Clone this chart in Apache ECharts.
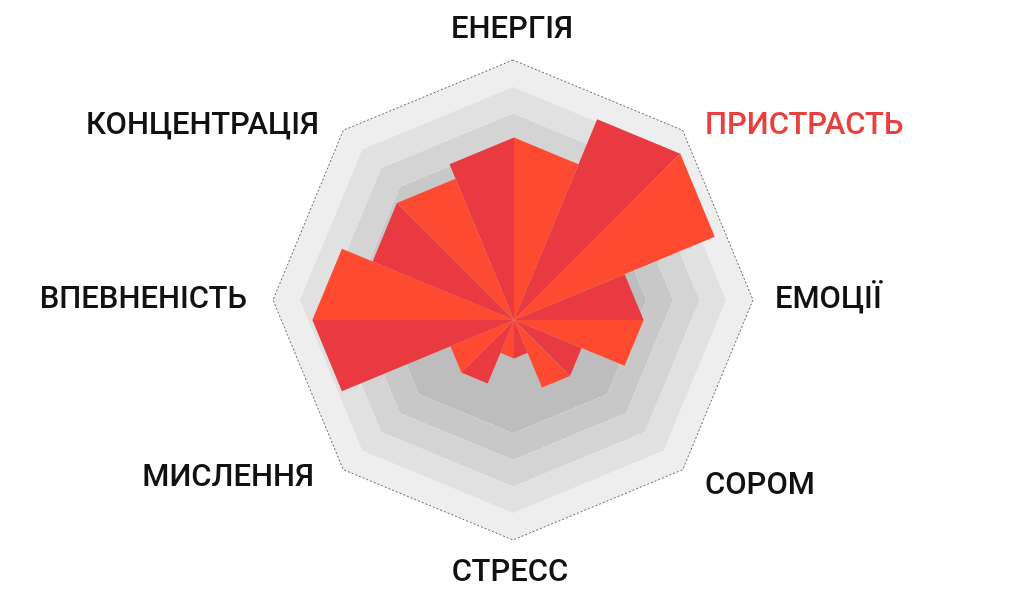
<!DOCTYPE html>
<html><head><meta charset="utf-8">
<script src="https://cdn.jsdelivr.net/npm/echarts@6/dist/echarts.min.js"></script>
<style>html,body{margin:0;padding:0;background:#fff}#c{width:1024px;height:605px}</style>
</head><body><div id="c"></div>
<script>
// ---- data ----
const categories = ['ЕНЕРГІЯ', 'ПРИСТРАСТЬ', 'ЕМОЦІЇ', 'СОРОМ', 'СТРЕСС', 'МИСЛЕННЯ', 'ВПЕВНЕНІСТЬ', 'КОНЦЕНТРАЦІЯ'];
const values = [76, 98, 54, 33, 16, 31, 84, 69];
const valueMax = 100;
const ringCount = 9;
const innerRings = 5;
const highlighted = 'ПРИСТРАСТЬ';

// ---- styles / layout ----
const darkRed = '#e83a40';
const orangeRed = '#fe4a30';
const innerColor = '#bdbdbd';
const outerRingColors = ['#c8c8c8', '#d4d4d4', '#e1e1e1', '#eeeeee'];
const labelLayout = [
  { x: 512, y: 30, align: 'center' },
  { x: 705, y: 126, align: 'left' },
  { x: 775, y: 300, align: 'left' },
  { x: 705, y: 486, align: 'left' },
  { x: 510, y: 573, align: 'center' },
  { x: 314, y: 478, align: 'right' },
  { x: 247, y: 300, align: 'right' },
  { x: 319, y: 126, align: 'right' }
];
const radarCenter = [513, 300];
const radarRadius = 240;

const chart = echarts.init(document.getElementById('c'), null, { renderer: 'canvas' });
const step = 360 / categories.length;
const half = step / 2;
const sideFactor = Math.cos(half * Math.PI / 180);

const ringColors = [];
for (let i = 0; i < ringCount; i++) ringColors.push(i < innerRings ? 'rgba(0,0,0,0)' : outerRingColors[i - innerRings]);
const splitLineColors = [];
for (let i = 0; i <= ringCount; i++) splitLineColors.push(i === ringCount ? '#6b6b6b' : 'rgba(0,0,0,0)');

const hidden = { show: false };
chart.setOption({
  backgroundColor: '#ffffff',
  animation: false,
  radar: [{
    center: radarCenter,
    radius: radarRadius * innerRings / ringCount,
    startAngle: 90,
    shape: 'polygon',
    splitNumber: 1,
    indicator: categories.map(n => ({ name: n, min: 0, max: 1 })),
    axisName: hidden, axisLine: hidden, axisTick: hidden, axisLabel: hidden, splitLine: hidden,
    splitArea: { show: true, areaStyle: { color: [innerColor] } }
  }, {
    center: radarCenter,
    radius: radarRadius,
    startAngle: 90,
    shape: 'polygon',
    splitNumber: ringCount,
    indicator: categories.map(n => ({ name: n, min: 0, max: ringCount })),
    axisName: hidden, axisLine: hidden, axisTick: hidden, axisLabel: hidden,
    splitLine: { show: true, lineStyle: { color: splitLineColors, width: 1, type: [2, 2] } },
    splitArea: { show: true, areaStyle: { color: ringColors } }
  }],
  polar: { center: [514, 320], radius: 240 },
  angleAxis: {
    type: 'value', min: 0, max: 360, startAngle: 90, clockwise: true,
    axisLine: hidden, axisTick: hidden, axisLabel: hidden, splitLine: hidden
  },
  radiusAxis: {
    type: 'value', min: 0, max: valueMax,
    axisLine: hidden, axisTick: hidden, axisLabel: hidden, splitLine: hidden
  },
  series: [{
    type: 'custom',
    coordinateSystem: 'polar',
    z: 5,
    data: values.map((v, i) => [v, i * step]),
    renderItem: function (params, api) {
      const v = api.value(0);
      const a = api.value(1);
      const s = v * sideFactor;
      const c = api.coord([0, a]);
      const tip = api.coord([v, a]);
      const left = api.coord([s, (a - half + 360) % 360]);
      const right = api.coord([s, (a + half) % 360]);
      return {
        type: 'group',
        children: [
          { type: 'polygon', shape: { points: [c, left, tip] }, style: { fill: darkRed } },
          { type: 'polygon', shape: { points: [c, tip, right] }, style: { fill: orangeRed } }
        ]
      };
    }
  }],
  graphic: categories.map((name, i) => ({
    type: 'text',
    x: labelLayout[i].x,
    y: labelLayout[i].y,
    z: 10,
    style: {
      text: name,
      font: '500 31px Roboto',
      fill: name === highlighted ? '#e8403f' : '#111111',
      textAlign: labelLayout[i].align,
      textVerticalAlign: 'middle',
      align: labelLayout[i].align,
      verticalAlign: 'middle'
    }
  }))
});
</script></body></html>
